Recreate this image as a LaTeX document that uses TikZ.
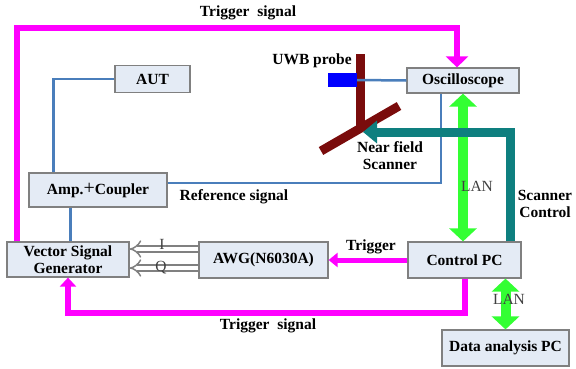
\documentclass[tikz,border=0pt]{standalone}
\usepackage{fontspec}
\setmainfont{Liberation Serif}
\usetikzlibrary{positioning,arrows.meta,calc}
\definecolor{boxfill}{HTML}{E4EBF5}
\definecolor{trig}{HTML}{FF00FF}
\definecolor{refblue}{HTML}{4A7EBB}
\definecolor{lan}{HTML}{33FF33}
\definecolor{scanctl}{HTML}{0E7F7F}
\definecolor{scanbar}{HTML}{7A0C0C}
\begin{document}
\begin{tikzpicture}[x=1pt,y=-1pt,
  every node/.style={font=\fontsize{15.5}{17}\selectfont\bfseries},
  unit/.style={draw=gray,fill=boxfill,line width=1.2pt,inner sep=0pt,align=center},
  trigline/.style={draw=trig,line width=6pt},
  refline/.style={draw=refblue,line width=2.5pt},
  lanarrow/.style={draw=lan,line width=10pt,{Triangle[width=27pt,length=13pt]}-{Triangle[width=27pt,length=13pt]}},
  iqarrow/.style={draw=gray,double=white,double distance=4.5pt,line width=1.5pt,-Implies},
  plainlbl/.style={font=\fontsize{15.5}{17}\selectfont\mdseries,text=black!75}]
  \useasboundingbox (0,0) rectangle (576,368);
  \node[unit,minimum width=75pt,minimum height=27pt] (aut) at (152.5,79) {AUT};
  \node[unit,minimum width=138pt,minimum height=34pt] (amp) at (98,190) {Amp.{\mdseries\fontsize{20}{17}\selectfont +}Coupler};
  \node[unit,minimum width=122pt,minimum height=35pt] (vsg) at (68,259.5) {Vector Signal\\Generator};
  \node[unit,minimum width=129pt,minimum height=36pt] (awg) at (263.5,260) {AWG(N6030A)};
  \node[unit,minimum width=113pt,minimum height=36pt] (pc) at (464.5,260) {Control PC};
  \node[unit,minimum width=127pt,minimum height=36pt] (dap) at (505.5,348) {Data analysis PC};
  \node[unit,minimum width=112pt,minimum height=25pt] (osc) at (463,80.5) {Oscilloscope};
  \fill[scanbar] (356,54) rectangle (365,128);
  \draw[scanbar,line width=9pt] (321,151) -- (399,106);
  \node[fill=blue,inner sep=0pt,minimum width=29pt,minimum height=14pt] (probe) at (342.5,80) {};
  \draw[refline] (osc.west) -- (probe.east);
  \draw[refline] (aut.west) -| ($(amp.north west)+(25,0)$);
  \coordinate (refcorner) at (441,183);
  \draw[refline] ($(amp.east)+(0,-7)$) -- (refcorner) -- (refcorner |- osc.south);
  \draw[refline] ($(amp.south west)+(42,0)$) -- ($(vsg.north west)+(64,0)$);
  \coordinate (toptrig) at (457,28);
  \draw[trigline,-{Triangle[width=22pt,length=11pt]}] ($(vsg.north west)+(11,0)$) |- (toptrig) -- (toptrig |- osc.north);
  \coordinate (bottrig) at (68,313);
  \draw[trigline,-{Triangle[width=16pt,length=9pt]}] (pc.south) |- (bottrig) -- (vsg.south);
  \draw[trigline,line width=5pt,-{Triangle[width=14pt,length=9pt]}] (pc.west) -- (awg.east);
  \draw[lanarrow] (osc.south) -- (osc.south |- pc.north);
  \draw[lanarrow] (dap.north |- pc.south) -- (dap.north);
  \coordinate (scantip) at (363,132);
  \draw[scanctl,line width=9pt,-{Triangle[width=22pt,length=14pt]}] ($(pc.north east)+(-11,0)$) |- (scantip);
  \draw[iqarrow] ($(awg.west)+(0,-11)$) -- ($(vsg.east)+(0,-10.5)$);
  \draw[iqarrow] ($(awg.west)+(0,8)$) -- ($(vsg.east)+(0,8.5)$);
  \node (trigtop) at (248,13) {Trigger\ \ signal};
  \node (trigbot) at (268,326) {Trigger\ \ signal};
  \node (reflbl) at (234,197) {Reference signal};
  \node (probelbl) at (312,61) {UWB probe};
  \node[align=center] (scanlbl) at (390,156) {Near field\\Scanner};
  \node[align=center] (ctllbl) at (545,204) {Scanner\\Control};
  \node (triglbl) at (371,247) {Trigger};
  \node[plainlbl] (lanup) at (477,186) {LAN};
  \node[plainlbl] (landown) at (509,299) {LAN};
  \node[plainlbl] (ilbl) at (162,244) {I};
  \node[plainlbl] (qlbl) at (161,268) {Q};
\end{tikzpicture}
\end{document}
